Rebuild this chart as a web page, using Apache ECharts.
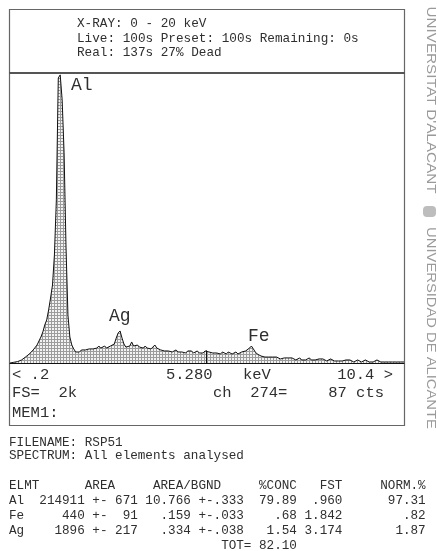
<!DOCTYPE html>
<html>
<head>
<meta charset="utf-8">
<script src="https://cdn.jsdelivr.net/npm/echarts@6/dist/echarts.min.js"></script>
<style>
html, body { margin: 0; padding: 0; background: #fff; }
#spectrum { width: 437px; height: 551px; }
</style>
</head>
<body>
<div id="spectrum"></div>
<script>
// energy calibration of the channels (keV)
const kevStart = 0.2;
const kevStep = 0.05;
const kevMin = 0.2;
const kevMax = 10.4;
const fullScale = 2000;

// counts per channel
const countsAl = [0, 2, 5, 8, 10, 14, 21, 31, 41, 48,
    62, 76, 90, 103, 124, 152, 179, 214, 262, 297,
    366, 448, 538, 745, 1125, 1966, 1987, 1815, 1450, 800,
    330, 179, 124, 97, 76, 69, 76, 90, 97, 90];
const countsAg = [103, 97, 103, 97, 110, 103, 117, 103, 110, 117,
    103, 110, 117, 110, 131, 172, 207, 221, 172, 131,
    110, 103, 117, 145, 117, 110, 124, 110, 110, 103,
    117, 103, 110, 97, 103, 124, 103, 97, 90, 97];
const countsMid = [83, 90, 83, 90, 76, 83, 90, 76, 83, 76,
    83, 69, 83, 76, 83, 69, 76, 83, 69, 76,
    69, 83, 80, 76, 83, 69, 76, 69, 76, 62,
    76, 69, 62, 76, 69, 62, 69, 76, 62, 69];
const countsFe = [76, 69, 83, 90, 103, 117, 97, 76, 62, 55,
    48, 55, 41, 48, 41, 35, 41, 35, 41, 35,
    28, 41, 35, 28, 35, 28, 35, 28, 21, 28,
    35, 21, 28, 21, 28, 35, 21, 28, 21, 14];
const countsTail = [28, 21, 28, 21, 14, 21, 28, 21, 14, 21,
    14, 21, 14, 7, 21, 14, 21, 14, 7, 14,
    21, 14, 7, 14, 21, 14, 7, 14, 7, 14,
    21, 14, 7, 14, 7, 14, 7, 14, 7, 14,
    7, 14, 7, 14, 7];

const peakNames = ['Al', 'Ag', 'Fe'];
const cursorKev = 5.280;
const cursorCounts = 87;

// result table
const elements = ['Al', 'Fe', 'Ag'];
const areas = ['214911', '440', '1896'];
const areaErrs = ['671', '91', '217'];
const areaBgnd = ['10.766', '.159', '.334'];
const areaBgndErrs = ['.333', '.033', '.038'];
const concs = ['79.89', '.68', '1.54'];
const fsts = ['.960', '1.842', '3.174'];
const norms = ['97.31', '.82', '1.87'];
const totalConc = '82.10';

const counts = countsAl.concat(countsAg, countsMid, countsFe, countsTail);
const spectrum = counts.map((c, i) => [+(kevStart + i * kevStep).toFixed(3), c]);

// halftone fill like the printout
const pat = document.createElement('canvas');
pat.width = 3; pat.height = 3;
const pctx = pat.getContext('2d');
pctx.fillStyle = '#f3f3f3';
pctx.fillRect(0, 0, 3, 3);
pctx.fillStyle = '#9c9c9c';
pctx.fillRect(0, 0, 3, 1);
pctx.fillRect(0, 0, 1, 3);

const mono = '"Liberation Mono", "DejaVu Sans Mono", monospace';
const ink = '#2f2f2f';

function txt(x, y, s, size, align) {
    return {
        type: 'text', x: x, y: y, silent: true,
        style: { text: s, fill: ink, font: size + 'px ' + mono, textAlign: align || 'left', textVerticalAlign: 'middle' }
    };
}
// fixed column printout: right edge (exclusive) of each column, in characters
function row(cells) {
    let s = '';
    cells.forEach(c => {
        s = s.padEnd(c[1] - c[0].length, ' ') + c[0];
    });
    return s;
}

const g = [];
// frame
g.push({ type: 'rect', shape: { x: 9.5, y: 9.5, width: 395, height: 416 }, style: { fill: null, stroke: '#666', lineWidth: 1.2 } });
g.push({ type: 'line', shape: { x1: 9, y1: 73, x2: 405, y2: 73 }, style: { stroke: '#555', lineWidth: 2 } });
// header
g.push(txt(77, 24, 'X-RAY: 0 - 20 keV', 12.7));
g.push(txt(77, 39, 'Live: 100s Preset: 100s Remaining: 0s', 12.7));
g.push(txt(77, 53, 'Real: 137s 27% Dead', 12.7));
// peak labels
g.push(txt(71, 85, peakNames[0], 18));
g.push(txt(109, 316, peakNames[1], 18));
g.push(txt(248, 336, peakNames[2], 18));
// scale line
g.push(txt(12, 375, '< ' + String(kevMin).replace(/^0/, ''), 15.5));
g.push(txt(166, 375, cursorKev.toFixed(3), 15.5));
g.push(txt(243, 375, 'keV', 15.5));
g.push(txt(393, 375, kevMax + ' >', 15.5, 'right'));
g.push(txt(12, 393, 'FS=  ' + (fullScale / 1000) + 'k', 15.5));
g.push(txt(213, 393, 'ch  274=', 15.5));
g.push(txt(384, 393, cursorCounts + ' cts', 15.5, 'right'));
g.push(txt(12, 413, 'MEM1:', 15.5));
// report
const rep = 12.63;
g.push(txt(9, 443, 'FILENAME: RSP51', rep));
g.push(txt(9, 456, 'SPECTRUM: All elements analysed', rep));
g.push(txt(9, 486, row([['ELMT', 4], ['AREA', 14], ['AREA/BGND', 28], ['%CONC', 38], ['FST', 44], ['NORM.%', 55]]), rep));
elements.forEach((el, k) => {
    const line = row([
        [el, 2], [areas[k], 10], ['+- ' + areaErrs[k].padStart(3, ' '), 17],
        [areaBgnd[k] + ' +-' + areaBgndErrs[k], 31], [concs[k], 38], [fsts[k], 44], [norms[k], 55]
    ]);
    g.push(txt(9, 501 + k * 15, line, rep));
});
g.push(txt(9, 546, row([['TOT= ' + totalConc, 38]]), rep));
// watermark
g.push({
    type: 'text', x: 430, y: 100, rotation: -Math.PI / 2, scaleX: 1.27, silent: true,
    style: { text: "UNIVERSITAT D'ALACANT", fill: '#9a9a9a', font: '12px "Liberation Sans", sans-serif', textAlign: 'center', textVerticalAlign: 'middle' }
});
g.push({ type: 'rect', shape: { x: 423, y: 206, width: 13, height: 11, r: 4 }, style: { fill: '#bdbdbd' } });
g.push({
    type: 'text', x: 430, y: 328, rotation: -Math.PI / 2, scaleX: 1.23, silent: true,
    style: { text: 'UNIVERSIDAD DE ALICANTE', fill: '#9a9a9a', font: '12px "Liberation Sans", sans-serif', textAlign: 'center', textVerticalAlign: 'middle' }
});

const chart = echarts.init(document.getElementById('spectrum'), null, { renderer: 'canvas' });
chart.setOption({
    animation: false,
    backgroundColor: '#fff',
    grid: { left: 10, right: 33, top: 73, bottom: 188 },
    xAxis: {
        type: 'value', min: kevMin, max: kevMax,
        axisLine: { show: true, onZero: true, lineStyle: { color: '#111', width: 1 } },
        axisTick: { show: false }, axisLabel: { show: false }, splitLine: { show: false }
    },
    yAxis: {
        type: 'value', min: 0, max: fullScale, show: false, splitLine: { show: false }
    },
    series: [{
        type: 'line',
        data: spectrum,
        showSymbol: false,
        lineStyle: { color: '#111', width: 1 },
        areaStyle: { color: { image: pat, repeat: 'repeat' }, opacity: 1 },
        markLine: {
            silent: true, symbol: 'none', label: { show: false },
            lineStyle: { color: '#111', type: 'solid', width: 1 },
            data: [[{ coord: [cursorKev, 0] }, { coord: [cursorKev, cursorCounts] }]]
        }
    }],
    graphic: g
});
</script>
</body>
</html>
